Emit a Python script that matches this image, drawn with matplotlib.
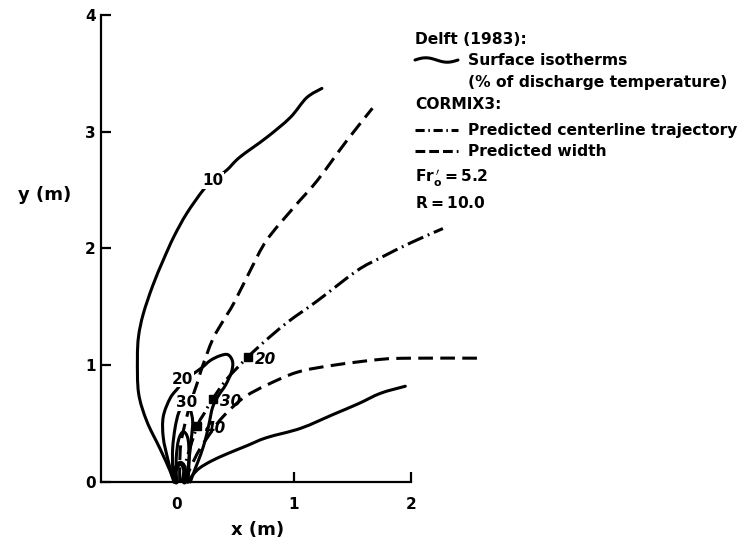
import numpy as np
import matplotlib
matplotlib.use("Agg")
import matplotlib.pyplot as plt
from matplotlib.lines import Line2D
from matplotlib.path import Path
from matplotlib.patches import PathPatch

plt.rcParams['font.family'] = ['DejaVu Sans']
plt.rcParams['font.weight'] = 'bold'
plt.rcParams['mathtext.fontset'] = 'dejavusans'

# Delft (1983) surface isotherms (% of discharge temperature), x/y in metres
iso10_x = [1.24, 1.11, 0.97, 0.77, 0.54, 0.43, 0.31, 0.23, 0.09, -0.02, -0.11,
           -0.20, -0.28, -0.32, -0.33, -0.32, -0.25, -0.14, -0.05, -0.02]
iso10_y = [3.37, 3.29, 3.12, 2.95, 2.78, 2.67, 2.58, 2.50, 2.30, 2.10, 1.90,
           1.68, 1.44, 1.25, 1.06, 0.76, 0.52, 0.29, 0.09, 0.0]
iso10_right_x = [0.10, 0.14, 0.20, 0.30, 0.43, 0.60, 0.77, 1.06, 1.34, 1.55, 1.74, 1.95]
iso10_right_y = [0.0, 0.06, 0.12, 0.18, 0.24, 0.31, 0.38, 0.46, 0.58, 0.67, 0.76, 0.82]

iso20_x = [0.0, -0.03, -0.07, -0.11, -0.11, -0.05, 0.02, 0.05, 0.15, 0.22, 0.29,
           0.37, 0.44, 0.48, 0.47, 0.42, 0.36, 0.31, 0.28, 0.25, 0.21, 0.16, 0.12]
iso20_y = [0.0, 0.04, 0.19, 0.38, 0.56, 0.72, 0.81, 0.86, 0.93, 0.98, 1.04,
           1.08, 1.09, 1.03, 0.94, 0.83, 0.74, 0.64, 0.50, 0.37, 0.24, 0.11, 0.0]

iso30_x = [-0.02, -0.03, -0.03, -0.01, 0.02, 0.06, 0.09, 0.12, 0.14, 0.13, 0.11, 0.09]
iso30_y = [0.0, 0.12, 0.29, 0.46, 0.59, 0.66, 0.68, 0.62, 0.52, 0.38, 0.20, 0.0]

iso40_x = [0.0, 0.0, 0.02, 0.06, 0.10, 0.11, 0.10]
iso40_y = [0.0, 0.20, 0.36, 0.43, 0.37, 0.20, 0.0]

core_x = [0.0, -0.01, 0.01, 0.035, 0.06, 0.075, 0.07]
core_y = [0.0, 0.08, 0.14, 0.16, 0.14, 0.08, 0.0]

# labels written on the isotherms: (value, x, y)
iso_labels = [("10", 0.31, 2.58), ("20", 0.05, 0.88), ("30", 0.09, 0.68)]

# CORMIX3 predictions
center_x = [0.05, 0.09, 0.18, 0.24, 0.31, 0.43, 0.61, 0.76, 0.95, 1.20, 1.54, 1.74, 2.0, 2.27]
center_y = [0.0, 0.20, 0.48, 0.59, 0.71, 0.88, 1.07, 1.21, 1.37, 1.55, 1.81, 1.92, 2.05, 2.17]

width_upper_x = [0.03, 0.03, 0.04, 0.08, 0.13, 0.18, 0.22, 0.31, 0.40, 0.49, 0.63,
                 0.77, 1.0, 1.20, 1.45, 1.67]
width_upper_y = [0.0, 0.15, 0.33, 0.52, 0.70, 0.85, 0.98, 1.22, 1.38, 1.53, 1.81,
                 2.07, 2.35, 2.58, 2.92, 3.20]
width_lower_x = [0.07, 0.12, 0.20, 0.32, 0.39, 0.50, 0.60, 0.77, 1.03, 1.34, 1.74, 2.0, 2.59]
width_lower_y = [0.0, 0.12, 0.28, 0.46, 0.55, 0.66, 0.74, 0.83, 0.94, 1.00, 1.05, 1.06, 1.06]

# predicted centerline points with their temperature (%)
pred_x = [0.18, 0.31, 0.61]
pred_y = [0.48, 0.71, 1.07]
pred_val = [40, 30, 20]

x_ticks = [0, 1, 2]
y_ticks = [0, 1, 2, 3, 4]

W, H = 744, 542
fig = plt.figure(figsize=(W / 100, H / 100), dpi=100)
ax = fig.add_axes([101 / W, (H - 482) / H, 3.39 * 117.5 / W, 4.1 * 116.8 / H])
ax.set_xlim(-0.64, 2.75)
ax.set_ylim(0, 4.1)

LW = 2.2
DASH = (0, (4.8, 2.4))
DASHDOT = (0, (5.5, 1.6, 0.6, 1.6))


def smooth_curve(xs, ys, ls="solid", lw=LW):
    """Draw a hand-drawn style curve: a cubic Bezier path through the given points."""
    p = np.column_stack([xs, ys]).astype(float)
    ext = np.vstack([p[0], p, p[-1]])
    verts = [p[0]]
    codes = [Path.MOVETO]
    for i in range(len(p) - 1):
        a, b, c, d = ext[i], ext[i + 1], ext[i + 2], ext[i + 3]
        verts += [b + (c - a) / 6.0, c - (d - b) / 6.0, c]
        codes += [Path.CURVE4] * 3
    patch = PathPatch(Path(verts, codes), fill=False, edgecolor="black", lw=lw,
                      ls=ls, capstyle="round" if ls == "solid" else "butt",
                      joinstyle="round", clip_on=False, zorder=3)
    ax.add_patch(patch)


smooth_curve(iso10_x, iso10_y)
smooth_curve(iso10_right_x, iso10_right_y)
smooth_curve(iso20_x, iso20_y)
smooth_curve(iso30_x, iso30_y)
smooth_curve(iso40_x, iso40_y)
smooth_curve(core_x, core_y, lw=3.6)

smooth_curve(width_upper_x, width_upper_y, ls=DASH)
smooth_curve(width_lower_x, width_lower_y, ls=DASH)
smooth_curve(center_x, center_y, ls=DASHDOT)
ax.plot(pred_x, pred_y, ls="none", marker="s", ms=5.5, color="black", zorder=4)
for v, x, y in zip(pred_val, pred_x, pred_y):
    ax.text(x + 0.06, y - 0.02, str(v), fontsize=11, fontweight="bold",
            style="italic", ha="left", va="center", zorder=5)

for t, x, y in iso_labels:
    ax.text(x, y, t, fontsize=11, fontweight="bold", ha="center", va="center",
            zorder=5, bbox=dict(facecolor="white", edgecolor="none", pad=0.6))

# axes: only left and bottom lines, ticks pointing inwards
for s in ("top", "right"):
    ax.spines[s].set_visible(False)
ax.spines["left"].set_bounds(0, 4)
ax.spines["bottom"].set_bounds(-0.64, 2)
for s in ("left", "bottom"):
    ax.spines[s].set_linewidth(1.6)
ax.set_xticks(x_ticks)
ax.set_yticks(y_ticks)
ax.set_xticklabels([str(v) for v in x_ticks])
ax.set_yticklabels([str(v) for v in y_ticks])
ax.tick_params(axis="both", direction="in", length=7, width=1.6, labelsize=11)
ax.tick_params(axis="x", pad=11)
ax.tick_params(axis="y", pad=4)
ax.set_facecolor("none")


def fx(px):
    return px / W


def fy(py):
    return 1 - py / H


fig.text(fx(45), fy(195), "y (m)", fontsize=13, fontweight="bold", ha="center", va="center")
fig.text(fx(258), fy(530), "x (m)", fontsize=13, fontweight="bold", ha="center", va="center")

# key
tk = dict(fontsize=11.2, fontweight="bold", ha="left", va="center")
fig.text(fx(415), fy(40), "Delft (1983):", **tk)
fig.text(fx(468), fy(60), "Surface isotherms", **tk)
fig.text(fx(468), fy(82), "(% of discharge temperature)", **tk)
fig.text(fx(415), fy(104), "CORMIX3:", **tk)
fig.text(fx(468), fy(131), "Predicted centerline trajectory", **tk)
fig.text(fx(468), fy(152), "Predicted width", **tk)
fig.text(fx(415), fy(178), r"$\mathbf{Fr_o^{\,\prime}=5.2}$", **tk)
fig.text(fx(415), fy(203), r"$\mathbf{R=10.0}$", **tk)

wx = np.linspace(415, 458, 40)
wy = 60 - 2.2 * np.sin((wx - 415) / 43 * 2 * np.pi)
fig.add_artist(Line2D(fx(wx), fy(wy), color="black", lw=LW, solid_capstyle="round"))
fig.add_artist(Line2D([fx(415), fx(458)], [fy(130), fy(130)], color="black", lw=LW,
                      ls=(0, (3.0, 1.2, 0.5, 1.2))))
fig.add_artist(Line2D([fx(415), fx(458)], [fy(151), fy(151)], color="black", lw=LW,
                      ls=(0, (3.2, 1.3))))

fig.savefig("out.png", dpi=100, facecolor="white")
